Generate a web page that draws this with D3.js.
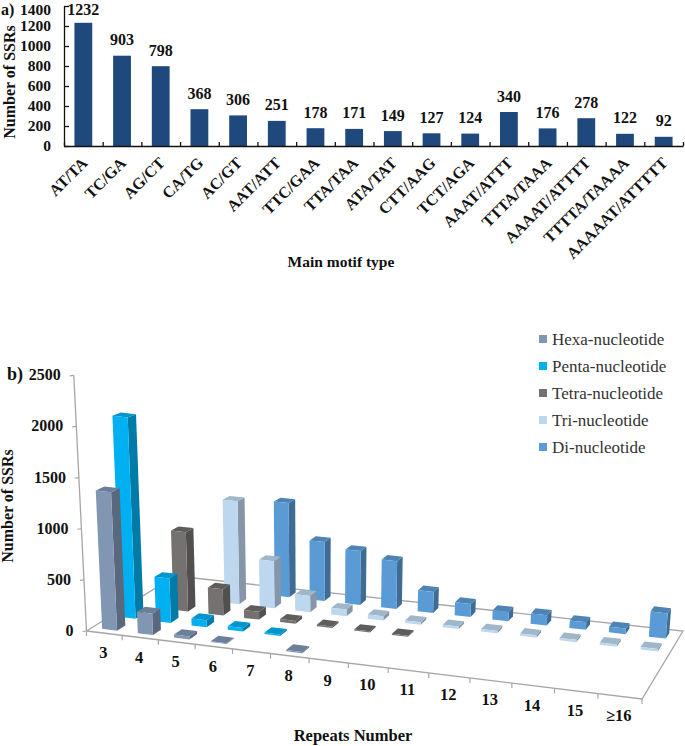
<!DOCTYPE html>
<html>
<head>
<meta charset="utf-8">
<script src="https://cdn.jsdelivr.net/npm/d3@7"></script>
<style>
body { margin: 0; background: #fff; }
svg { display: block; }
text { font-family: "Liberation Serif", serif; }
.bold { font-weight: bold; fill: #111; }
</style>
</head>
<body>
<svg width="685" height="746"></svg>
<script>
// panel a
var motifs = ["AT/TA", "TC/GA", "AG/CT", "CA/TG", "AC/GT", "AAT/ATT", "TTC/GAA", "TTA/TAA", "ATA/TAT",
    "CTT/AAG", "TCT/AGA", "AAAT/ATTT", "TTTA/TAAA", "AAAAT/ATTTT", "TTTTA/TAAAA", "AAAAAT/ATTTTT"];
var motifCounts = [1232, 903, 798, 368, 306, 251, 178, 171, 149, 127, 124, 340, 176, 278, 122, 92];
var motifTicks = [0, 200, 400, 600, 800, 1000, 1200, 1400];

// panel b, one value per repeat number, null where no column is drawn
var repeats = ["3", "4", "5", "6", "7", "8", "9", "10", "11", "12", "13", "14", "15", "≥16"];
var seriesNames = ["Hexa-nucleotide", "Penta-nucleotide", "Tetra-nucleotide", "Tri-nucleotide", "Di-nucleotide"];
var hexa = [1360, 210, 30, 8, null, 12, null, null, null, null, null, null, null, null];
var penta = [2020, 445, 70, 35, 15, null, null, null, null, null, null, null, null, null];
var tetra = [null, 810, 268, 80, 30, 15, 12, 12, null, null, null, null, null, null];
var tri = [null, null, 1075, 490, 170, 70, 45, 25, 25, 25, 25, 25, 25, 25];
var di = [null, null, null, 1005, 630, 575, 510, 225, 140, 100, 110, 80, 60, 270];
var repeatTicks = [0, 500, 1000, 1500, 2000, 2500];

var frontColors = ["#8196b3", "#00b0f0", "#767171", "#bdd7ee", "#5b9bd5"];
var sideColors = ["#5a687d", "#007ba8", "#524f4f", "#8496a7", "#3f6c95"];
var topColors = ["#6d7f98", "#0095cc", "#5f5c5c", "#a0b7ca", "#4d84b5"];

var svg = d3.select("svg");

drawPanelA();
drawPanelB();

function drawPanelA() {
    var g = svg.append("g");
    var x = d3.scaleBand().domain(motifs).range([64, 683]).paddingInner(0.54).paddingOuter(0.27);
    var xEdge = d3.scaleLinear().domain([0, motifs.length]).range([64, 683]);
    var y = d3.scaleLinear().domain([0, 1400]).range([146, 6]);

    g.selectAll("rect").data(motifs).enter().append("rect")
        .attr("x", d => x(d))
        .attr("width", x.bandwidth())
        .attr("y", (d, i) => y(motifCounts[i]))
        .attr("height", (d, i) => y(0) - y(motifCounts[i]))
        .attr("fill", "#1f497d");

    g.selectAll(".count").data(motifs).enter().append("text")
        .attr("class", "bold")
        .attr("x", d => x(d) + x.bandwidth() / 2)
        .attr("y", (d, i) => Math.max(y(motifCounts[i]) - 10.5, 14.5))
        .attr("text-anchor", "middle")
        .attr("font-size", 16)
        .text((d, i) => motifCounts[i]);

    var yAxis = g.append("g")
        .attr("transform", "translate(64,0)")
        .call(d3.axisLeft(y).tickValues(motifTicks).tickFormat(d3.format("d"))
            .tickSize(-5).tickSizeOuter(0).tickPadding(13));
    var xAxis = g.append("g")
        .attr("transform", "translate(0,146)")
        .call(d3.axisBottom(xEdge).ticks(motifs.length).tickFormat("").tickSize(-4).tickSizeOuter(0));
    [yAxis, xAxis].forEach(a => {
        a.selectAll("path, line").attr("stroke", "#111").attr("stroke-width", 1.3);
    });
    yAxis.selectAll("text")
        .attr("class", "bold")
        .attr("font-family", null)
        .attr("font-size", 15.5)
        .attr("dy", d => d == 1400 ? "0.52em" : "0.32em"); // top label would run off the page

    g.selectAll(".motif").data(motifs).enter().append("text")
        .attr("class", "bold")
        .attr("transform", d => "translate(" + (x(d) + x.bandwidth() / 2 + 5) + ",164) rotate(-45)")
        .attr("text-anchor", "end")
        .attr("font-size", 16)
        .text(d => d);

    g.append("text").attr("class", "bold")
        .attr("x", 341).attr("y", 267)
        .attr("text-anchor", "middle").attr("font-size", 15.5)
        .text("Main motif type");
    g.append("text").attr("class", "bold")
        .attr("transform", "translate(15,82) rotate(-90)")
        .attr("text-anchor", "middle").attr("font-size", 16)
        .text("Number of SSRs");
    g.append("text").attr("class", "bold")
        .attr("x", 1).attr("y", 15).attr("font-size", 16)
        .text("a)");
}

// maps the unit square onto the floor quad (perspective, not bilinear)
function floorProjection(p00, p10, p11, p01) {
    var dx1 = p10[0] - p11[0], dx2 = p01[0] - p11[0], sx = p00[0] - p10[0] + p11[0] - p01[0],
        dy1 = p10[1] - p11[1], dy2 = p01[1] - p11[1], sy = p00[1] - p10[1] + p11[1] - p01[1],
        det = dx1 * dy2 - dx2 * dy1,
        g = (sx * dy2 - dx2 * sy) / det,
        h = (dx1 * sy - sx * dy1) / det,
        a = p10[0] - p00[0] + g * p10[0],
        b = p01[0] - p00[0] + h * p01[0],
        d = p10[1] - p00[1] + g * p10[1],
        e = p01[1] - p00[1] + h * p01[1];
    return function (u, v) {
        var w = g * u + h * v + 1;
        return [(a * u + b * v + p00[0]) / w, (d * u + e * v + p00[1]) / w];
    };
}

function drawPanelB() {
    var g = svg.append("g");
    var rows = [hexa, penta, tetra, tri, di];
    var corners = { fl: [86.5, 631], fr: [642, 699], br: [683, 631], bl: [175, 576] };
    var floor = floorProjection(corners.fl, corners.fr, corners.br, corners.bl);

    var u = d3.scaleLinear().domain([0, repeats.length]).range([0, 1]);
    var v = d3.scaleLinear().domain([0, rows.length]).range([0, 1]);
    var yPx = d3.scaleLinear().domain([0, 2500]).range([0, 256]);
    var depth = d3.scaleLinear().domain([0, 1]).range([1, 0.9]);
    var vanish = [320, 5330];

    // point on the floor lifted by a value; columns lean away from the vanishing point
    function lift(i, r, value) {
        var p = floor(u(i), v(r));
        var h = yPx(value) * depth(v(r));
        var dx = p[0] - vanish[0], dy = p[1] - vanish[1], len = Math.sqrt(dx * dx + dy * dy);
        return [p[0] + dx / len * h, p[1] + dy / len * h];
    }

    var quad = d3.line();

    // floor outline
    g.append("path")
        .attr("d", quad([corners.fl, corners.bl, corners.br, corners.fr, corners.fl]))
        .attr("fill", "none").attr("stroke", "#a6a6a6").attr("stroke-width", 1.3);

    // y axis
    var yTop = lift(0, 0, 2500);
    g.append("path").attr("d", quad([corners.fl, yTop]))
        .attr("fill", "none").attr("stroke", "#a6a6a6").attr("stroke-width", 1.3);
    repeatTicks.forEach(t => {
        var p = lift(0, 0, t);
        g.append("path").attr("d", quad([p, [p[0] - 4, p[1] + 0.5]]))
            .attr("stroke", "#a6a6a6").attr("stroke-width", 1.2);
        g.append("text").attr("class", "bold")
            .attr("x", p[0] - 13).attr("y", p[1] + 5)
            .attr("text-anchor", "end").attr("font-size", 16)
            .text(t);
    });

    // x ticks and labels along the front edge
    d3.range(repeats.length + 1).forEach(i => {
        var p = floor(u(i), 0);
        g.append("path").attr("d", quad([p, [p[0], p[1] + 5]]))
            .attr("stroke", "#a6a6a6").attr("stroke-width", 1.2);
    });
    g.selectAll(".repeat").data(repeats).enter().append("text")
        .attr("class", "bold")
        .attr("x", (d, i) => floor(u(i + 0.5), 0)[0] - 1)
        .attr("y", (d, i) => floor(u(i + 0.5), 0)[1] + 25)
        .attr("text-anchor", "middle")
        .attr("font-size", 16.5)
        .text(d => d);

    // columns, back row first
    var barHalf = 0.21, rowHalf = 0.22;
    d3.range(rows.length - 1, -1, -1).forEach(r => {
        var gRow = g.append("g");
        rows[r].forEach((value, i) => {
            if (value === null) return;
            var i0 = i + 0.5 - barHalf, i1 = i + 0.5 + barHalf,
                r0 = r + 0.5 - rowHalf, r1 = r + 0.5 + rowHalf;
            var a = lift(i0, r0, 0), b = lift(i1, r0, 0), c = lift(i1, r1, 0),
                at = lift(i0, r0, value), bt = lift(i1, r0, value),
                ct = lift(i1, r1, value), dt = lift(i0, r1, value);
            gRow.append("path").attr("d", quad([b, c, ct, bt]) + "Z").attr("fill", sideColors[r]);
            gRow.append("path").attr("d", quad([at, bt, ct, dt]) + "Z").attr("fill", topColors[r]);
            gRow.append("path").attr("d", quad([a, b, bt, at]) + "Z").attr("fill", frontColors[r]);
        });
    });

    // legend
    var legendY = d3.scalePoint().domain(seriesNames).range([339, 447]);
    var legend = g.selectAll(".legend").data(seriesNames).enter().append("g")
        .attr("transform", d => "translate(539," + legendY(d) + ")");
    legend.append("rect")
        .attr("y", -4).attr("width", 8).attr("height", 8)
        .attr("fill", (d, i) => frontColors[i]);
    legend.append("text")
        .attr("x", 13).attr("y", 5.5)
        .attr("font-size", 17).attr("fill", "#333")
        .text(d => d);

    g.append("text").attr("class", "bold")
        .attr("x", 353).attr("y", 741)
        .attr("text-anchor", "middle").attr("font-size", 16.5)
        .text("Repeats Number");
    g.append("text").attr("class", "bold")
        .attr("transform", "translate(13,506) rotate(-90)")
        .attr("text-anchor", "middle").attr("font-size", 16)
        .text("Number of SSRs");
    g.append("text").attr("class", "bold")
        .attr("x", 7).attr("y", 380).attr("font-size", 18)
        .text("b)");
}
</script>
</body>
</html>
